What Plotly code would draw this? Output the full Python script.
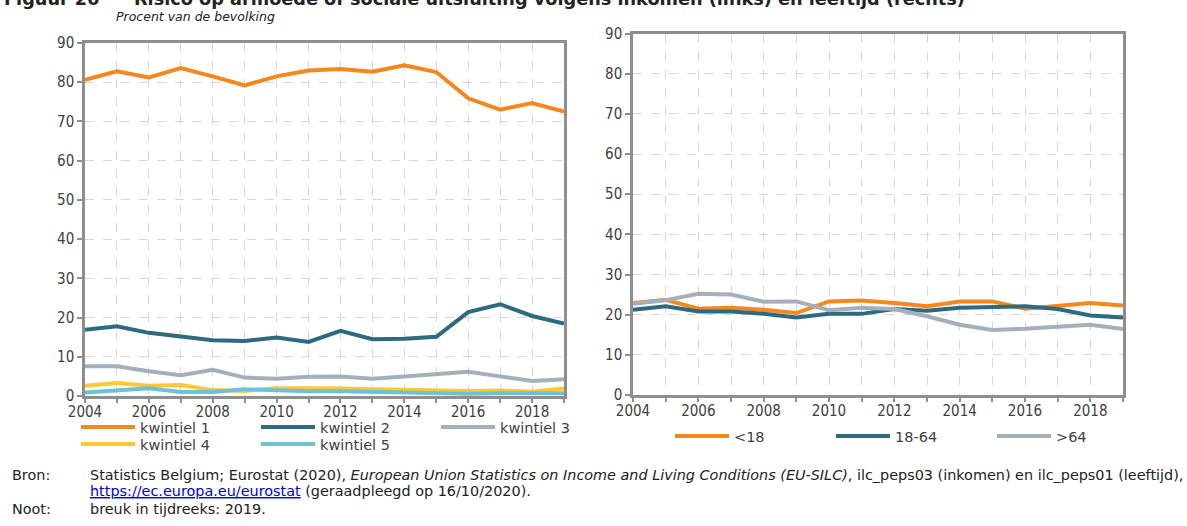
import plotly.graph_objects as go

years = list(range(2004, 2020))
tick_text = [str(y) if y % 2 == 0 else "" for y in years]

kwintiel_1 = [80.6, 82.8, 81.2, 83.6, 81.5, 79.2, 81.5, 83.0, 83.4, 82.7, 84.3, 82.6, 75.9, 73.0, 74.7, 72.5]
kwintiel_2 = [16.9, 17.8, 16.1, 15.1, 14.2, 14.0, 14.9, 13.8, 16.6, 14.5, 14.6, 15.1, 21.4, 23.4, 20.4, 18.5]
kwintiel_3 = [7.6, 7.6, 6.3, 5.3, 6.7, 4.7, 4.4, 4.9, 5.0, 4.4, 5.0, 5.7, 6.2, 5.0, 3.8, 4.3]
kwintiel_4 = [2.6, 3.3, 2.6, 2.8, 1.5, 1.3, 2.0, 2.0, 1.9, 1.7, 1.5, 1.5, 1.3, 1.4, 1.1, 1.9]
kwintiel_5 = [0.9, 1.5, 2.0, 1.0, 1.0, 1.7, 1.4, 1.2, 1.2, 1.0, 0.9, 0.8, 0.6, 0.7, 0.7, 0.7]

age_lt18 = [22.9, 23.7, 21.5, 21.7, 21.2, 20.4, 23.3, 23.5, 22.9, 22.1, 23.3, 23.3, 21.5, 22.1, 22.9, 22.3]
age_18_64 = [21.2, 22.1, 20.8, 20.8, 20.2, 19.3, 20.2, 20.2, 21.4, 21.0, 21.7, 21.8, 22.1, 21.4, 19.8, 19.3]
age_gt64 = [22.7, 23.6, 25.2, 25.0, 23.2, 23.3, 21.1, 21.7, 21.4, 19.6, 17.5, 16.2, 16.5, 17.1, 17.5, 16.4]

y_ticks = list(range(0, 91, 10))

ORANGE = "#F5871F"
TEAL = "#2C6A80"
GREY = "#A5AFBC"
YELLOW = "#FFC734"
LIGHTBLUE = "#6CC2D4"

FONT = "DejaVu Sans"
FONT_NUM = "DejaVu Sans Condensed"
W, H = 1187, 526

fig = go.Figure()

left = [
    ("kwintiel 1", kwintiel_1, ORANGE, "legend"),
    ("kwintiel 2", kwintiel_2, TEAL, "legend"),
    ("kwintiel 3", kwintiel_3, GREY, "legend"),
    ("kwintiel 4", kwintiel_4, YELLOW, "legend2"),
    ("kwintiel 5", kwintiel_5, LIGHTBLUE, "legend2"),
]
for name, vals, col, lg in left:
    fig.add_trace(go.Scatter(x=years, y=vals, name=name, mode="lines",
                             line=dict(color=col, width=4), xaxis="x", yaxis="y",
                             legend=lg))

right = [
    ("<18", age_lt18, ORANGE),
    ("18-64", age_18_64, TEAL),
    (">64", age_gt64, GREY),
]
for name, vals, col in right:
    fig.add_trace(go.Scatter(x=years, y=vals, name=name, mode="lines",
                             line=dict(color=col, width=4), xaxis="x2", yaxis="y2",
                             legend="legend3"))

def px_x(p):
    return p / W

def px_y(p):
    return 1 - p / H

axis_common = dict(showline=True, mirror=True, linecolor="#8E8E8E", linewidth=2.5,
                   showgrid=True, gridcolor="#D6D6D6", griddash="dash", gridwidth=1,
                   zeroline=False, ticks="outside", tickcolor="#8E8E8E", tickwidth=2,
                   tickfont=dict(family=FONT_NUM, size=15, color="#404040"))

leg_font = dict(family=FONT, size=14.5, color="#404040")
leg_common = dict(orientation="h", xanchor="left", yanchor="middle", itemwidth=54,
                  entrywidthmode="pixels", font=leg_font, bgcolor="rgba(0,0,0,0)",
                  borderwidth=0, tracegroupgap=0)

fig.update_layout(
    width=W, height=H,
    margin=dict(l=0, r=0, t=0, b=0, autoexpand=False),
    paper_bgcolor="white", plot_bgcolor="white",
    font=dict(family=FONT, color="#222222"),
    xaxis=dict(domain=[px_x(85), px_x(564)], range=[2004, 2019], tickvals=years,
               ticktext=tick_text, ticklen=4, ticklabelstandoff=-4, anchor="y", **axis_common),
    yaxis=dict(domain=[px_y(396), px_y(43)], range=[0, 90], tickvals=y_ticks,
               ticklen=5, anchor="x", **axis_common),
    xaxis2=dict(domain=[px_x(633), px_x(1123)], range=[2004, 2019], tickvals=years,
                ticktext=tick_text, ticklen=4, ticklabelstandoff=-4, anchor="y2", **axis_common),
    yaxis2=dict(domain=[px_y(395), px_y(33.5)], range=[0, 90], tickvals=y_ticks,
                ticklen=5, anchor="x2", **axis_common),
    showlegend=True,
    legend=dict(x=px_x(76), y=px_y(427), entrywidth=111, **leg_common),
    legend2=dict(x=px_x(76), y=px_y(444), entrywidth=111, **leg_common),
    legend3=dict(x=px_x(670), y=px_y(436), entrywidth=92, **leg_common),
)

FOOT = 14.4
ann = [
    dict(text="<b>Figuur 20</b>", x=px_x(2), y=px_y(-1), xanchor="left", yanchor="middle",
         font=dict(size=17.7, color="#222222")),
    dict(text="<b>Risico op armoede of sociale uitsluiting volgens inkomen (links) en leeftijd (rechts)</b>",
         x=px_x(132), y=px_y(-1), xanchor="left", yanchor="middle", font=dict(size=17.7, color="#222222")),
    dict(text="<i>Procent van de bevolking</i>", x=px_x(114), y=px_y(16), xanchor="left",
         yanchor="middle", font=dict(size=12.5, color="#222222")),
    dict(text="Bron:", x=px_x(10), y=px_y(475), xanchor="left", yanchor="middle",
         font=dict(size=FOOT, color="#222222")),
    dict(text="Statistics Belgium; Eurostat (2020), <i>European Union Statistics on Income and Living Conditions (EU-SILC)</i>, ilc_peps03 (inkomen) en ilc_peps01 (leeftijd),",
         x=px_x(88), y=px_y(475), xanchor="left", yanchor="middle", font=dict(size=FOOT, color="#222222")),
    dict(text="<span style='color:#0000EE;text-decoration:underline'>https://ec.europa.eu/eurostat</span> (geraadpleegd op 16/10/2020).",
         x=px_x(88), y=px_y(491), xanchor="left", yanchor="middle", font=dict(size=FOOT, color="#222222")),
    dict(text="Noot:", x=px_x(10), y=px_y(509), xanchor="left", yanchor="middle",
         font=dict(size=FOOT, color="#222222")),
    dict(text="breuk in tijdreeks: 2019.", x=px_x(88), y=px_y(509), xanchor="left", yanchor="middle",
         font=dict(size=FOOT, color="#222222")),
]
for a in ann:
    a.update(xref="paper", yref="paper", showarrow=False)
    fig.add_annotation(**a)

fig.write_html("out.html", config={"displayModeBar": False},
               post_script="document.body.style.margin='0';document.body.style.overflow='hidden';")
